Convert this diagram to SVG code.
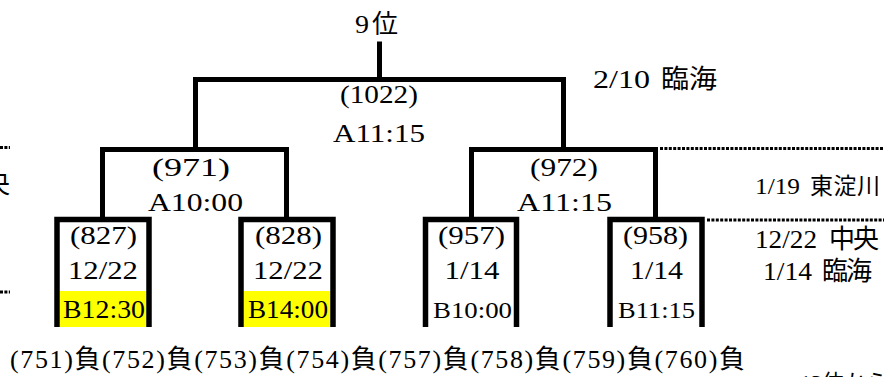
<svg xmlns="http://www.w3.org/2000/svg" width="884" height="377" viewBox="0 0 884 377">
<style>
text{font-family:'Liberation Serif','Noto Sans CJK JP',serif;font-size:26px;fill:#000}
.s{font-size:22px}
.m{font-size:23px}
.j{font-size:26px}
.c{text-anchor:middle}
.ln{fill:none;stroke:#000;stroke-width:5;stroke-linejoin:miter;stroke-linecap:square}
.bx{fill:none;stroke:#000;stroke-width:5.5;stroke-linejoin:miter}
.dt{fill:none;stroke:#000;stroke-width:3;stroke-dasharray:3 1.4}
.hl{fill:#ffff00}
</style>
<rect width="884" height="377" fill="#fff"/>
<g id="connectors">
<path class="ln" d="M379.5,44 V79.5"/>
<path class="ln" d="M195.5,149 V79.5 H563.5 V149"/>
<path class="ln" d="M102.5,219 V149.5 H286.5 V219"/>
<path class="ln" d="M471.5,219 V149.5 H655.5 V219"/>
<path class="dt" d="M660,148.5 H884"/>
<path class="dt" d="M707,220 H884"/>
<path class="dt" d="M0,147.5 H10"/>
<path class="dt" d="M0,292 H10"/>
</g>
<g id="n9">
<text x="355" y="33" textLength="14" lengthAdjust="spacingAndGlyphs">9</text>
<text class="j" x="372" y="33">位</text>
</g>
<g id="n1022">
<text class="c" x="379" y="103" textLength="78" lengthAdjust="spacingAndGlyphs">(1022)</text>
<text class="c" x="379" y="142" textLength="92" lengthAdjust="spacingAndGlyphs">A11:15</text>
<text x="593" y="88" textLength="57" lengthAdjust="spacingAndGlyphs">2/10</text>
<text class="j" x="661" y="88" textLength="56" lengthAdjust="spacingAndGlyphs">臨海</text>
</g>
<g id="n971">
<text class="c" x="191" y="176" textLength="78" lengthAdjust="spacingAndGlyphs">(971)</text>
<text class="c" x="195.5" y="211" textLength="95" lengthAdjust="spacingAndGlyphs">A10:00</text>
</g>
<g id="n972">
<text class="c" x="564" y="176" textLength="68" lengthAdjust="spacingAndGlyphs">(972)</text>
<text class="c" x="564.5" y="211" textLength="95" lengthAdjust="spacingAndGlyphs">A11:15</text>
</g>
<g id="n827">
<rect class="hl" x="60" y="291" width="86" height="36"/>
<path class="bx" d="M57,327 V219.5 H149 V327"/>
<text class="c" x="103.5" y="244" textLength="67" lengthAdjust="spacingAndGlyphs">(827)</text>
<text class="c" x="103" y="279" textLength="70" lengthAdjust="spacingAndGlyphs">12/22</text>
<text class="c" x="104" y="318" textLength="82" lengthAdjust="spacingAndGlyphs">B12:30</text>
</g>
<g id="n828">
<rect class="hl" x="244" y="291" width="86" height="36"/>
<path class="bx" d="M241,327 V219.5 H333 V327"/>
<text class="c" x="288.5" y="244" textLength="67" lengthAdjust="spacingAndGlyphs">(828)</text>
<text class="c" x="288" y="279" textLength="70" lengthAdjust="spacingAndGlyphs">12/22</text>
<text class="c" x="288" y="318" textLength="80" lengthAdjust="spacingAndGlyphs">B14:00</text>
</g>
<g id="n957">
<path class="bx" d="M425.5,327 V219.5 H516.5 V327"/>
<text class="c" x="471.5" y="244" textLength="67" lengthAdjust="spacingAndGlyphs">(957)</text>
<text class="c" x="472" y="279" textLength="55" lengthAdjust="spacingAndGlyphs">1/14</text>
<text class="m c" x="472.5" y="318" textLength="79" lengthAdjust="spacingAndGlyphs">B10:00</text>
</g>
<g id="n958">
<path class="bx" d="M610,327 V219.5 H702 V327"/>
<text class="c" x="655.5" y="244" textLength="65" lengthAdjust="spacingAndGlyphs">(958)</text>
<text class="c" x="656.5" y="279" textLength="53" lengthAdjust="spacingAndGlyphs">1/14</text>
<text class="m c" x="656.5" y="318" textLength="77" lengthAdjust="spacingAndGlyphs">B11:15</text>
</g>
<g id="notes">
<text class="m" x="755" y="194" textLength="45" lengthAdjust="spacingAndGlyphs">1/19</text>
<text class="m" x="810" y="194" textLength="70">東淀川</text>
<text x="755" y="248" textLength="62" lengthAdjust="spacingAndGlyphs">12/22</text>
<text class="j" x="829" y="248" textLength="50">中央</text>
<text x="763" y="280" textLength="49" lengthAdjust="spacingAndGlyphs">1/14</text>
<text class="j" x="822" y="280" textLength="50">臨海</text>
<text class="j" x="10" y="193" text-anchor="end">中央</text>
<text x="10" y="368" textLength="735">(751)負(752)負(753)負(754)負(757)負(758)負(759)負(760)負</text>
<text class="s" x="800" y="390">13位から</text>
</g>
</svg>
